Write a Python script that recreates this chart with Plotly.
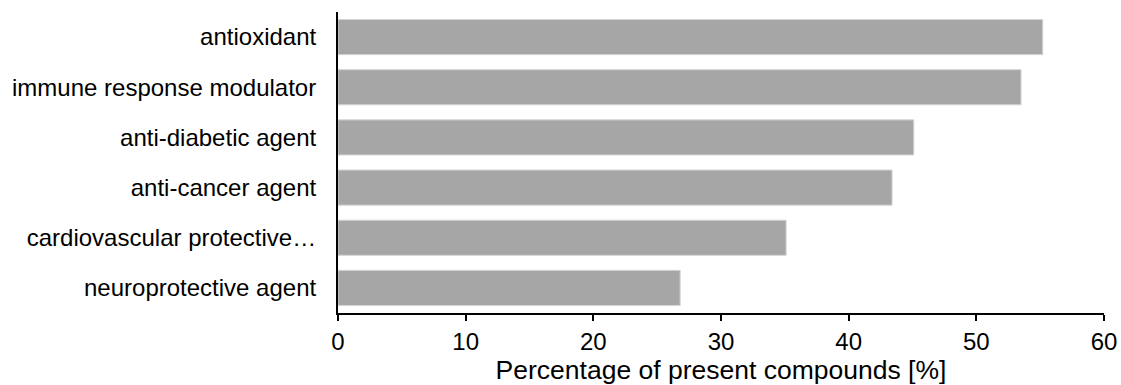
import plotly.graph_objects as go

categories = ["antioxidant", "immune response modulator", "anti-diabetic agent",
              "anti-cancer agent", "cardiovascular protective…", "neuroprotective agent"]
values = [55.2, 53.5, 45.1, 43.4, 35.1, 26.8]
x_ticks = [0, 10, 20, 30, 40, 50, 60]

fig = go.Figure(go.Bar(
    x=values, y=categories, orientation="h",
    marker=dict(color="#a6a6a6", line=dict(color="#d4d4d4", width=1)),
    width=0.7,
))

fig.update_layout(
    width=1121, height=385,
    margin=dict(l=338, r=17, t=12, b=72),
    plot_bgcolor="white", paper_bgcolor="white",
    font=dict(family="Liberation Sans, Arial, sans-serif", color="black", size=24),
    showlegend=False,
    bargap=0.3,
)
fig.update_xaxes(
    range=[0, 60], tickvals=x_ticks, showgrid=False, zeroline=False,
    showline=True, linecolor="black", linewidth=2, automargin=False,
    ticks="outside", ticklen=6, tickwidth=1.5, tickcolor="black",
    tickfont=dict(size=24), ticklabeloverflow="allow",
    title=dict(text="Percentage of present compounds [%]", font=dict(size=26.5), standoff=4),
)
fig.update_yaxes(
    categoryorder="array", categoryarray=categories[::-1],
    showgrid=False, zeroline=False, showline=True, linecolor="black", linewidth=2,
    automargin=False,
    ticks="", tickfont=dict(size=24), ticklabelstandoff=15,
)

fig.write_html(
    "out.html",
    config={"displayModeBar": False},
    post_script="document.body.style.margin='0';document.body.style.overflow='hidden';",
)
